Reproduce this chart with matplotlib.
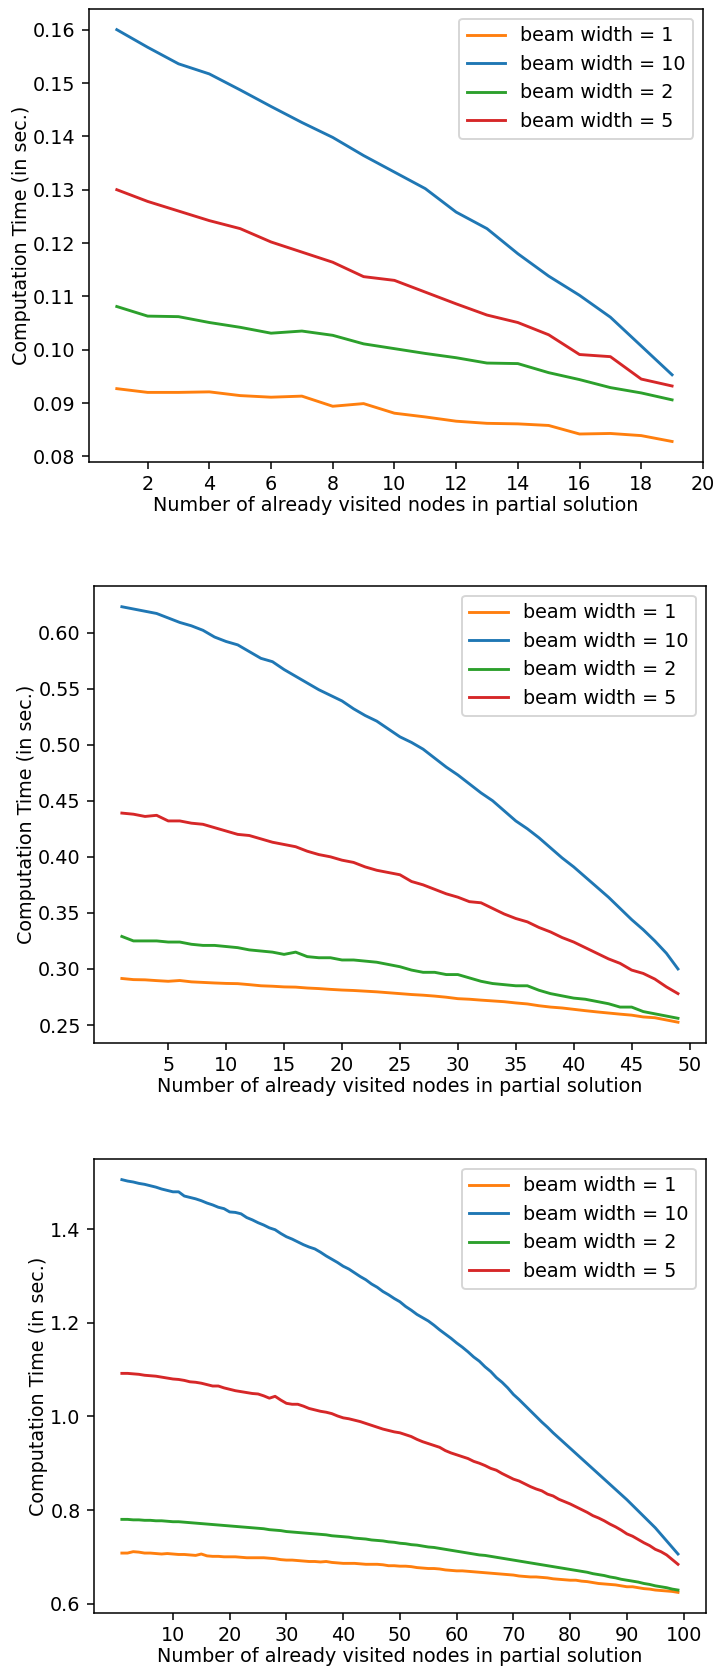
import matplotlib
matplotlib.use("Agg")
import matplotlib.pyplot as plt

# labels of the series, in the order they are plotted
labels = ["beam width = 10", "beam width = 1", "beam width = 2", "beam width = 5"]

# ---- top chart: 20 nodes ----
x20 = list(range(1, 20))
t20_bw10 = [0.1600, 0.1567, 0.1536, 0.1517, 0.1487, 0.1456, 0.1426, 0.1398, 0.1364, 0.1333,
            0.1302, 0.1258, 0.1227, 0.1180, 0.1138, 0.1102, 0.1061, 0.1007, 0.0953]
t20_bw1 = [0.0927, 0.0920, 0.0920, 0.0921, 0.0914, 0.0911, 0.0913, 0.0894, 0.0899, 0.0881,
           0.0874, 0.0866, 0.0862, 0.0861, 0.0858, 0.0842, 0.0843, 0.0839, 0.0828]
t20_bw2 = [0.1081, 0.1063, 0.1062, 0.1051, 0.1042, 0.1031, 0.1035, 0.1027, 0.1011, 0.1002,
           0.0993, 0.0985, 0.0975, 0.0974, 0.0957, 0.0944, 0.0929, 0.0919, 0.0906]
t20_bw5 = [0.1300, 0.1278, 0.1260, 0.1242, 0.1227, 0.1202, 0.1183, 0.1164, 0.1137, 0.1130,
           0.1108, 0.1086, 0.1065, 0.1051, 0.1028, 0.0991, 0.0987, 0.0945, 0.0932]

# ---- middle chart: 50 nodes ----
x50 = list(range(1, 50))
t50_bw10 = [0.623, 0.621, 0.619, 0.617, 0.613, 0.609, 0.606, 0.602, 0.596, 0.592,
            0.589, 0.583, 0.577, 0.574, 0.567, 0.561, 0.555, 0.549, 0.544, 0.539,
            0.532, 0.526, 0.521, 0.514, 0.507, 0.502, 0.496, 0.488, 0.480, 0.473,
            0.465, 0.457, 0.450, 0.441, 0.432, 0.425, 0.417, 0.408, 0.399, 0.391,
            0.382, 0.373, 0.364, 0.354, 0.344, 0.335, 0.325, 0.314, 0.300]
t50_bw1 = [0.2915, 0.2905, 0.2903, 0.2896, 0.2890, 0.2897, 0.2885, 0.2880, 0.2875, 0.2871,
           0.2869, 0.2860, 0.2850, 0.2846, 0.2840, 0.2838, 0.2830, 0.2825, 0.2818, 0.2812,
           0.2808, 0.2802, 0.2796, 0.2788, 0.2780, 0.2772, 0.2766, 0.2758, 0.2748, 0.2735,
           0.2730, 0.2722, 0.2715, 0.2708, 0.2697, 0.2688, 0.2672, 0.2660, 0.2652, 0.2640,
           0.2628, 0.2617, 0.2607, 0.2597, 0.2588, 0.2572, 0.2565, 0.2545, 0.2525]
t50_bw2 = [0.329, 0.325, 0.325, 0.325, 0.324, 0.324, 0.322, 0.321, 0.321, 0.320,
           0.319, 0.317, 0.316, 0.315, 0.313, 0.315, 0.311, 0.310, 0.310, 0.308,
           0.308, 0.307, 0.306, 0.304, 0.302, 0.299, 0.297, 0.297, 0.295, 0.295,
           0.292, 0.289, 0.287, 0.286, 0.285, 0.285, 0.281, 0.278, 0.276, 0.274,
           0.273, 0.271, 0.269, 0.266, 0.266, 0.262, 0.260, 0.258, 0.256]
t50_bw5 = [0.439, 0.438, 0.436, 0.437, 0.432, 0.432, 0.430, 0.429, 0.426, 0.423,
           0.420, 0.419, 0.416, 0.413, 0.411, 0.409, 0.405, 0.402, 0.400, 0.397,
           0.395, 0.391, 0.388, 0.386, 0.384, 0.378, 0.375, 0.371, 0.367, 0.364,
           0.360, 0.359, 0.354, 0.349, 0.345, 0.342, 0.337, 0.333, 0.328, 0.324,
           0.319, 0.314, 0.309, 0.305, 0.299, 0.296, 0.291, 0.284, 0.278]

# ---- bottom chart: 100 nodes ----
x100 = list(range(1, 100))
t100_bw10 = [1.506, 1.503, 1.501, 1.498, 1.496, 1.493, 1.490, 1.486, 1.483, 1.480,
             1.480, 1.471, 1.468, 1.465, 1.461, 1.456, 1.452, 1.447, 1.444, 1.437,
             1.436, 1.433, 1.425, 1.420, 1.414, 1.409, 1.403, 1.399, 1.391, 1.384,
             1.379, 1.373, 1.367, 1.362, 1.358, 1.351, 1.343, 1.336, 1.329, 1.321,
             1.315, 1.307, 1.299, 1.292, 1.283, 1.276, 1.267, 1.260, 1.252, 1.245,
             1.235, 1.227, 1.218, 1.211, 1.204, 1.195, 1.185, 1.176, 1.167, 1.157,
             1.148, 1.138, 1.127, 1.118, 1.106, 1.096, 1.083, 1.073, 1.061, 1.047,
             1.036, 1.024, 1.012, 1.000, 0.988, 0.977, 0.965, 0.954, 0.943, 0.932,
             0.921, 0.910, 0.899, 0.888, 0.877, 0.866, 0.855, 0.844, 0.833, 0.822,
             0.810, 0.798, 0.786, 0.774, 0.762, 0.748, 0.734, 0.720, 0.706]
t100_bw1 = [0.708, 0.708, 0.711, 0.710, 0.708, 0.708, 0.707, 0.706, 0.707, 0.706,
            0.705, 0.705, 0.704, 0.703, 0.706, 0.702, 0.701, 0.701, 0.700, 0.700,
            0.700, 0.699, 0.698, 0.698, 0.698, 0.698, 0.697, 0.696, 0.694, 0.693,
            0.693, 0.692, 0.691, 0.690, 0.690, 0.689, 0.690, 0.688, 0.687, 0.686,
            0.686, 0.686, 0.685, 0.684, 0.684, 0.684, 0.683, 0.681, 0.681, 0.680,
            0.680, 0.679, 0.677, 0.676, 0.675, 0.675, 0.674, 0.672, 0.671, 0.670,
            0.670, 0.669, 0.668, 0.667, 0.666, 0.665, 0.664, 0.663, 0.662, 0.661,
            0.659, 0.658, 0.657, 0.657, 0.656, 0.655, 0.653, 0.652, 0.651, 0.650,
            0.650, 0.648, 0.647, 0.645, 0.643, 0.642, 0.641, 0.640, 0.638, 0.636,
            0.636, 0.634, 0.632, 0.631, 0.629, 0.628, 0.627, 0.626, 0.624]
t100_bw2 = [0.780, 0.780, 0.779, 0.779, 0.778, 0.778, 0.777, 0.777, 0.776, 0.775,
            0.775, 0.774, 0.773, 0.772, 0.771, 0.770, 0.769, 0.768, 0.767, 0.766,
            0.765, 0.764, 0.763, 0.762, 0.761, 0.760, 0.758, 0.757, 0.756, 0.754,
            0.753, 0.752, 0.751, 0.750, 0.749, 0.748, 0.747, 0.745, 0.744, 0.743,
            0.742, 0.740, 0.739, 0.738, 0.736, 0.735, 0.734, 0.732, 0.731, 0.729,
            0.728, 0.726, 0.725, 0.723, 0.721, 0.720, 0.718, 0.716, 0.714, 0.712,
            0.710, 0.708, 0.706, 0.704, 0.703, 0.701, 0.699, 0.697, 0.695, 0.693,
            0.691, 0.689, 0.687, 0.685, 0.683, 0.681, 0.679, 0.677, 0.675, 0.673,
            0.671, 0.669, 0.667, 0.664, 0.662, 0.660, 0.657, 0.655, 0.652, 0.650,
            0.648, 0.646, 0.643, 0.641, 0.638, 0.636, 0.634, 0.631, 0.629]
t100_bw5 = [1.092, 1.092, 1.091, 1.090, 1.088, 1.087, 1.086, 1.084, 1.082, 1.080,
            1.079, 1.077, 1.074, 1.073, 1.071, 1.068, 1.065, 1.065, 1.061, 1.058,
            1.055, 1.053, 1.051, 1.049, 1.048, 1.044, 1.039, 1.043, 1.035, 1.028,
            1.026, 1.026, 1.022, 1.017, 1.014, 1.011, 1.009, 1.006, 1.001, 0.997,
            0.995, 0.992, 0.989, 0.985, 0.981, 0.977, 0.973, 0.970, 0.967, 0.965,
            0.961, 0.957, 0.951, 0.946, 0.942, 0.938, 0.934, 0.927, 0.922, 0.918,
            0.914, 0.910, 0.904, 0.900, 0.895, 0.889, 0.885, 0.878, 0.872, 0.866,
            0.862, 0.856, 0.850, 0.845, 0.841, 0.834, 0.830, 0.823, 0.818, 0.813,
            0.807, 0.801, 0.795, 0.788, 0.783, 0.777, 0.770, 0.764, 0.757, 0.749,
            0.744, 0.737, 0.730, 0.724, 0.716, 0.711, 0.704, 0.694, 0.684]

xticks20 = list(range(2, 21, 2))
xticks50 = list(range(5, 51, 5))
xticks100 = list(range(10, 101, 10))

panels = [
    (x20, [t20_bw10, t20_bw1, t20_bw2, t20_bw5], xticks20, [0.124, 0.7248, 0.855, 0.2698]),
    (x50, [t50_bw10, t50_bw1, t50_bw2, t50_bw5], xticks50, [0.131, 0.3788, 0.852, 0.2722]),
    (x100, [t100_bw10, t100_bw1, t100_bw2, t100_bw5], xticks100, [0.131, 0.0393, 0.852, 0.2704]),
]

DPI = 138
fig = plt.figure(figsize=(718 / DPI, 1679 / DPI), dpi=DPI)

for xs, series, ticks, pos in panels:
    ax = fig.add_axes(pos)
    lines = []
    for ys, lab in zip(series, labels):
        l, = ax.plot(xs, ys, label=lab)
        lines.append(l)
    ax.set_xticks(ticks)
    ax.set_xlabel("Number of already visited nodes in partial solution", labelpad=1)
    ax.set_ylabel("Computation Time (in sec.)", labelpad=1)
    # legend is sorted by label text: 1, 10, 2, 5
    order = [1, 0, 2, 3]
    ax.legend([lines[i] for i in order], [labels[i] for i in order], loc="upper right")

fig.savefig("out.png", dpi=DPI)
